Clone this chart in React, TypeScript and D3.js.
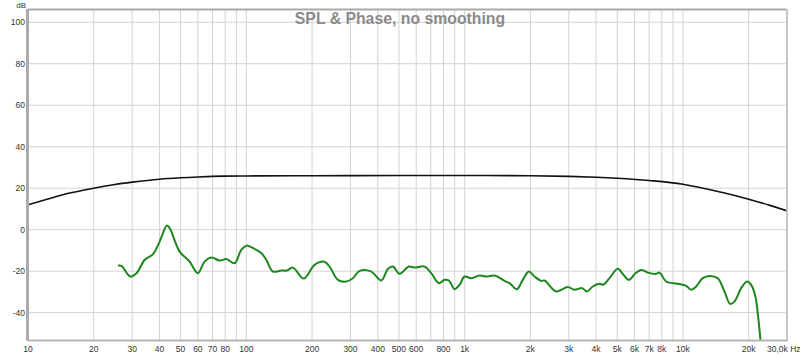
import React from "react";
import * as d3 from "d3";

const W = 800;
const H = 356;

// Black curve
const blackFreq = [10, 12, 15, 20, 25, 30, 40, 50, 60, 80, 100, 200, 500, 1000, 2000, 3000, 4000, 5000, 7000, 10000, 15000, 20000, 25000, 30000];
const blackDb = [12.0, 14.4, 17.3, 20.0, 21.8, 22.9, 24.3, 25.0, 25.4, 25.8, 25.9, 26.0, 26.1, 26.1, 26.0, 25.7, 25.3, 24.8, 23.7, 21.9, 18.0, 14.7, 11.7, 9.0];

// Green curve
const greenFreq = [25.8, 26.8, 29.4, 31.4, 34.2, 37.4, 40.1, 43.3, 44.6, 49.5, 55.0, 60.0, 64.4, 69.1, 75.5, 81, 88.4, 94.8, 100.7,
  103.5, 117, 123.5, 132.4, 144.6, 153.5, 163.5, 183, 205.4, 226, 240.6, 262.7, 287, 307.6, 330, 373.5, 415, 445,
  469, 503.5, 555, 590, 655, 703, 762, 809, 847, 899, 948, 999, 1072, 1170, 1256, 1371, 1524, 1606, 1734, 1847, 1968,
  2089, 2243, 2322, 2627, 2969, 3184, 3454, 3626, 3864, 4147, 4326, 4609, 5029, 5342, 5648, 6061, 6434, 6902, 7534, 7806, 8375,
  9464, 10340, 10905, 11490, 12320, 13220, 14430, 15490, 16440, 17210, 18470, 19680, 20530, 21480, 22000, 22640, 23000];
const greenDb = [-17.3, -17.5, -22.6, -21.0, -14.6, -11.8, -5.7, 2.0, 0.7, -10.6, -15.4, -21.0, -15.4, -13.4, -14.9, -14.2, -16.2, -9.7, -7.7,
  -8.1, -11.3, -14.6, -20.2, -19.7, -19.7, -18.3, -23.6, -17.0, -15.4, -17.8, -24.2, -25.0, -23.4, -19.9, -20.2, -24.5, -19.0,
  -17.8, -21.3, -17.8, -18.3, -17.8, -21.0, -25.8, -24.2, -24.5, -28.7, -26.6, -22.6, -23.4, -22.1, -22.6, -22.1, -24.7, -25.8, -28.7, -24.2, -20.2,
  -22.6, -24.7, -24.5, -29.8, -27.7, -29.0, -28.2, -29.8, -27.4, -26.1, -26.5, -23.4, -18.9, -21.8, -24.2, -21.0, -19.4, -20.7, -21.3, -20.7, -25.0,
  -26.1, -27.1, -29.0, -27.4, -23.4, -22.3, -23.4, -29.8, -35.8, -34.7, -28.2, -25.0, -26.6, -32.3, -40.3, -53.1, -62];

const gridFreqs = [10, 20, 30, 40, 50, 60, 70, 80, 90, 100, 200, 300, 400, 500, 600, 700, 800, 900, 1000, 2000, 3000, 4000, 5000, 6000, 7000, 8000, 9000, 10000, 20000];
const xTickFreqs = [10, 20, 30, 40, 50, 60, 70, 80, 100, 200, 300, 400, 500, 600, 800, 1000, 2000, 3000, 4000, 5000, 6000, 7000, 8000, 10000, 20000];
const xTickLabels = ["10", "20", "30", "40", "50", "60", "70", "80", "100", "200", "300", "400", "500", "600", "800", "1k", "2k", "3k", "4k", "5k", "6k", "7k", "8k", "10k", "20k"];
const yTicks = [-40, -20, 0, 20, 40, 60, 80, 100];

const PL = 28, PR = 786.5, PT = 10, PB = 340;

export default function App() {
  const x = d3.scaleLog().domain([10, 29800]).range([PL, PR]);
  const y = d3.scaleLinear().domain([-53.2, 105.9]).range([PB, PT]);

  const line = d3.line<[number, number]>()
    .x((d) => x(d[0]))
    .y((d) => y(d[1]))
    .curve(d3.curveCatmullRom.alpha(0.5));

  const blackPath = line(blackFreq.map((f, i) => [f, blackDb[i]]) as [number, number][]) || "";
  const greenPath = line(greenFreq.map((f, i) => [f, greenDb[i]]) as [number, number][]) || "";

  const font = "'Liberation Sans', Arial, sans-serif";

  return (
    <svg width={W} height={H} style={{ position: "absolute", left: 0, top: 0, background: "#fff" }}>
      <defs>
        <clipPath id="plotClip">
          <rect x={PL} y={PT} width={PR - PL} height={PB - PT} />
        </clipPath>
      </defs>
      <rect x={0} y={0} width={W} height={H} fill="#fff" />
      {/* grid */}
      {gridFreqs.map((f) => (
        <line key={"gx" + f} x1={x(f)} x2={x(f)} y1={PT} y2={PB} stroke="#d3d3d3" strokeWidth={1} />
      ))}
      {yTicks.map((t) => (
        <line key={"gy" + t} x1={PL} x2={PR} y1={y(t)} y2={y(t)} stroke="#d3d3d3" strokeWidth={1} />
      ))}
      {/* title */}
      <text x={400} y={24} textAnchor="middle" fontFamily={font} fontWeight="bold" fontSize={15.8} fill="#8a8a8a">
        SPL &amp; Phase, no smoothing
      </text>
      {/* curves */}
      <g clipPath="url(#plotClip)">
        <path d={blackPath} fill="none" stroke="#111" strokeWidth={1.6} />
        <path d={greenPath} fill="none" stroke="#1e861e" strokeWidth={2} strokeLinejoin="round" />
      </g>
      {/* frame */}
      <line x1={PL} x2={PR} y1={PT - 0.5} y2={PT - 0.5} stroke="#a9a9a9" strokeWidth={2} />
      <line x1={PL - 0.5} x2={PL - 0.5} y1={PT - 1} y2={PB + 1} stroke="#ababab" strokeWidth={3} />
      <line x1={PL} x2={PR + 1} y1={PB + 0.5} y2={PB + 0.5} stroke="#b5b5b5" strokeWidth={2} />
      <line x1={PR + 0.5} x2={PR + 0.5} y1={PT - 1} y2={PB + 1} stroke="#b5b5b5" strokeWidth={1.5} />
      {/* y labels */}
      {yTicks.map((t) => (
        <text key={"ty" + t} x={25} y={y(t) + 3} textAnchor="end" fontFamily={font} fontSize={8.5} fill="#333">
          {t}
        </text>
      ))}
      <text x={26} y={8} textAnchor="end" fontFamily={font} fontSize={8} fill="#333">dB</text>
      {/* x labels */}
      {xTickFreqs.map((f, i) => (
        <text key={"tx" + f} x={x(f)} y={352} textAnchor="middle" fontFamily={font} fontSize={8.5} fill="#333">
          {xTickLabels[i]}
        </text>
      ))}
      <text x={767} y={352} textAnchor="start" fontFamily={font} fontSize={8.5} fill="#333">30,0k Hz</text>
    </svg>
  );
}
